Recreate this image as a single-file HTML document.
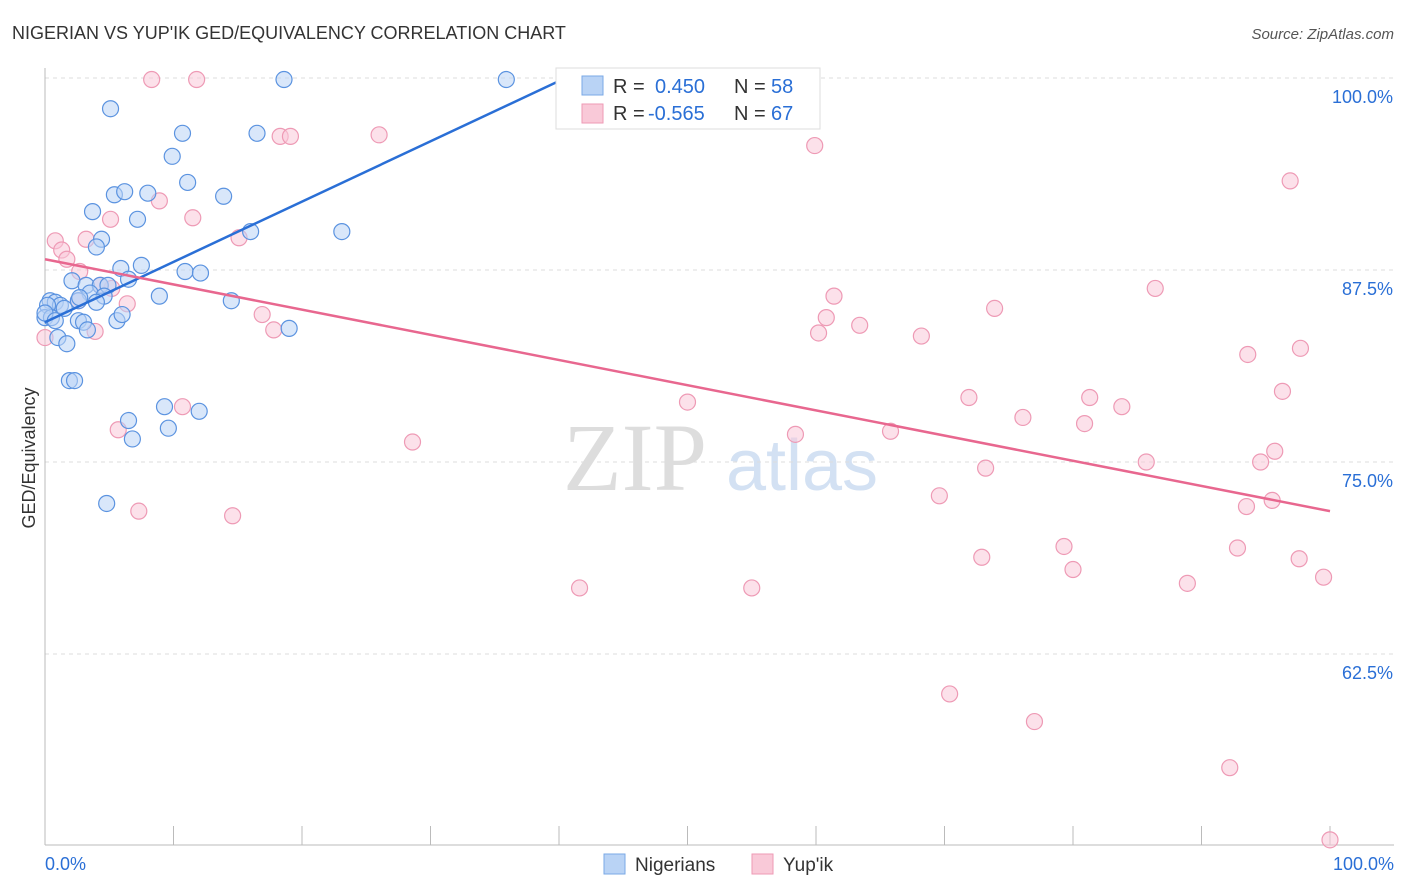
<!DOCTYPE html>
<html><head><meta charset="utf-8">
<style>
body{margin:0;background:#fff;font-family:"Liberation Sans",sans-serif;}
#wrap{position:relative;width:1406px;height:892px;overflow:hidden;}
</style></head>
<body>
<div id="wrap">
<svg id="chart" width="1406" height="892" xmlns="http://www.w3.org/2000/svg">
<text x="12" y="39" font-size="18" fill="#333">NIGERIAN VS YUP'IK GED/EQUIVALENCY CORRELATION CHART</text>
<text x="1394" y="39" font-size="15" fill="#555" text-anchor="end" font-style="italic">Source: ZipAtlas.com</text>
<text x="35" y="458" font-size="18" fill="#333" text-anchor="middle" transform="rotate(-90 35 458)">GED/Equivalency</text>
<g><text x="635" y="490" font-size="96" fill="#ddd" text-anchor="middle" font-family="Liberation Serif,serif">ZIP</text><text x="802" y="490" font-size="72" fill="#d3e1f3" text-anchor="middle">atlas</text></g>
<g id="grid"></g><g id="axes"></g><g id="pts"></g><g id="lines"></g>
<g>
<rect x="556" y="68" width="264" height="61" fill="#fff" stroke="#ddd"/>
<rect x="582" y="76" width="21" height="19" fill="#b9d3f5" stroke="#7aa8e6"/>
<text x="613" y="93" font-size="20" fill="#333">R = </text><text x="655" y="93" font-size="20" fill="#2a6fd6">0.450</text>
<text x="734" y="93" font-size="20" fill="#333">N = </text><text x="771" y="93" font-size="20" fill="#2a6fd6">58</text>
<rect x="582" y="104" width="21" height="19" fill="#f9c9d8" stroke="#ee9ab5"/>
<text x="613" y="120" font-size="20" fill="#333">R = </text><text x="648" y="120" font-size="20" fill="#2a6fd6">-0.565</text>
<text x="734" y="120" font-size="20" fill="#333">N = </text><text x="771" y="120" font-size="20" fill="#2a6fd6">67</text>
</g>
<g>
<rect x="604" y="854" width="21" height="20" fill="#b9d3f5" stroke="#7aa8e6"/>
<text x="635" y="871" font-size="19" fill="#333">Nigerians</text>
<rect x="752" y="854" width="21" height="20" fill="#f9c9d8" stroke="#ee9ab5"/>
<text x="783" y="871" font-size="19" fill="#333">Yup'ik</text>
</g>
</svg>
</div>
<script>
const yTicks=[100,87.5,75,62.5];
const yTickLabels=["100.0%","87.5%","75.0%","62.5%"];
const xTicks=[0,10,20,30,40,50,60,70,80,90,100];
const blueX=[5.1,10.7,16.5,18.6,35.9,9.9,11.1,5.4,6.2,8.0,13.9,3.7,7.2,16.0,23.1,4.4,4.0,7.5,5.9,10.9,12.1,2.1,6.5,3.2,4.3,4.9,3.5,4.6,8.9,14.5,0.4,0.8,1.2,0.2,1.5,4.0,2.6,0,0.5,2.6,3.0,5.6,6.0,3.3,1.0,1.7,19.0,1.9,2.3,9.3,12.0,6.5,9.6,6.8,4.8,0,0.8,2.7];
const blueY=[98.0,96.4,96.4,99.9,99.9,94.9,93.2,92.4,92.6,92.5,92.3,91.3,90.8,90.0,90.0,89.5,89.0,87.8,87.6,87.4,87.3,86.8,86.9,86.5,86.5,86.5,86.0,85.8,85.8,85.5,85.5,85.4,85.2,85.2,85.0,85.4,85.5,84.4,84.4,84.2,84.1,84.2,84.6,83.6,83.1,82.7,83.7,80.3,80.3,78.6,78.3,77.7,77.2,76.5,72.3,84.7,84.2,85.7];
const pinkX=[8.3,11.8,18.3,19.1,26.0,59.9,96.9,8.9,11.5,5.1,0.8,3.2,15.1,1.3,1.7,2.7,5.2,4.3,2.6,6.4,61.4,86.4,73.9,16.9,60.8,63.4,17.8,60.2,3.9,0,68.2,97.7,93.6,96.3,71.9,81.3,50.0,10.7,83.8,76.1,80.9,5.7,65.8,58.4,28.6,95.7,94.6,85.7,73.2,69.6,95.5,93.5,7.3,14.6,79.3,92.8,72.9,97.6,80.0,99.5,88.9,41.6,55.0,70.4,77.0,92.2,100];
const pinkY=[99.9,99.9,96.2,96.2,96.3,95.6,93.3,92.0,90.9,90.8,89.4,89.5,89.6,88.8,88.2,87.4,86.3,86.5,85.5,85.3,85.8,86.3,85.0,84.6,84.4,83.9,83.6,83.4,83.5,83.1,83.2,82.4,82.0,79.6,79.2,79.2,78.9,78.6,78.6,77.9,77.5,77.1,77.0,76.8,76.3,75.7,75.0,75.0,74.6,72.8,72.5,72.1,71.8,71.5,69.5,69.4,68.8,68.7,68.0,67.5,67.1,66.8,66.8,59.9,58.1,55.1,50.4];
const blueTrend=[[0,84.1],[40.5,100]];
const pinkTrend=[[0,88.2],[100,71.8]];
const NS="http://www.w3.org/2000/svg";
const sx=v=>45+v*12.85;
const sy=v=>78+(100-v)*192/12.5;
function mk(tag,attrs,parent){const e=document.createElementNS(NS,tag);for(const k in attrs)e.setAttribute(k,attrs[k]);parent.appendChild(e);return e;}
const grid=document.getElementById('grid'),axes=document.getElementById('axes'),pts=document.getElementById('pts'),lines=document.getElementById('lines');
yTicks.forEach((t,i)=>{
 const l=mk('line',{x1:45,x2:1394,y1:sy(t),y2:sy(t),stroke:'#ddd','stroke-dasharray':'4,4'},grid);
 
 
 const tx=mk('text',{x:1393,y:sy(t)+25,'font-size':18,fill:'#2a6fd6','text-anchor':'end'},axes);
 tx.textContent=yTickLabels[i];
 
 
});
const ax=mk('line',{x1:45,x2:1394,y1:845,y2:845,stroke:'#bbb'},axes);


const ay=mk('line',{x1:45,x2:45,y1:68,y2:845,stroke:'#bbb'},axes);


xTicks.forEach(t=>{const l=mk('line',{x1:sx(t),x2:sx(t),y1:826,y2:845,stroke:'#bbb'},axes);
 
 });
let t0=mk('text',{x:45,y:870,'font-size':18,fill:'#2a6fd6'},axes);t0.textContent='0.0%';


let t1=mk('text',{x:1394,y:870,'font-size':18,fill:'#2a6fd6','text-anchor':'end'},axes);t1.textContent='100.0%';


function dots(X,Y,fill,stroke,name){X.forEach((x,i)=>{const c=mk('circle',{cx:sx(x),cy:sy(Y[i]),r:8,fill:fill,'fill-opacity':0.55,stroke:stroke,'stroke-width':1.2},pts);
 
 });}
dots(pinkX,pinkY,'#f9c9d8','#ee9ab5','yupik-point');
dots(blueX,blueY,'#b9d3f5','#5b93e0','nigerian-point');
const bl=mk('line',{x1:sx(blueTrend[0][0]),y1:sy(blueTrend[0][1]),x2:sx(blueTrend[1][0]),y2:sy(blueTrend[1][1]),stroke:'#2a6fd6','stroke-width':2.5},lines);


const pl=mk('line',{x1:sx(pinkTrend[0][0]),y1:sy(pinkTrend[0][1]),x2:sx(pinkTrend[1][0]),y2:sy(pinkTrend[1][1]),stroke:'#e8678f','stroke-width':2.5},lines);


</script>
</body></html>
